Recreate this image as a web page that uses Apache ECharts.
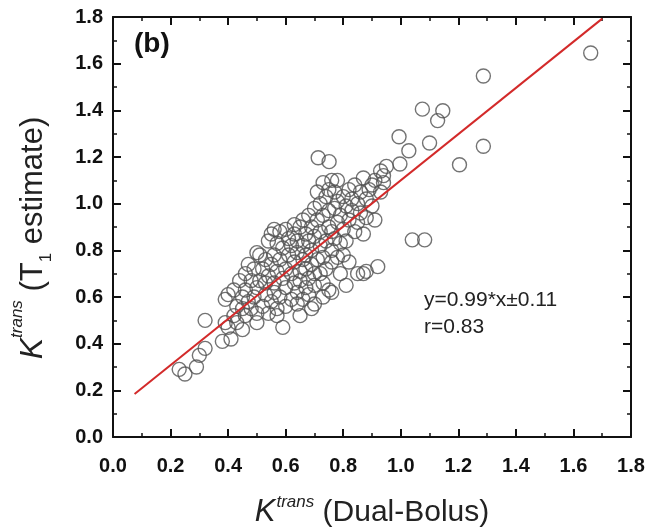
<!DOCTYPE html>
<html>
<head>
<meta charset="utf-8">
<script src="https://cdn.jsdelivr.net/npm/echarts@6/dist/echarts.min.js"></script>
<style>html,body{margin:0;padding:0;background:#fff}#c{width:655px;height:527px}</style>
</head>
<body>
<div id="c"></div>
<script>
// Dual-Bolus Ktrans (x) vs T1-estimate Ktrans (y)
var clusterX = [0.38,0.39,0.39,0.40,0.40,0.41,0.42,0.42,0.43,0.43,0.44,0.45,0.45,0.45,0.46,0.46,0.46,0.47,0.47,
0.48,0.48,0.49,0.49,0.50,0.50,0.50,0.50,0.51,0.51,
0.52,0.52,0.53,0.53,0.53,0.54,0.54,0.54,
0.55,0.55,0.55,0.56,0.56,0.56,0.56,0.57,0.57,0.57,0.57,
0.58,0.58,0.58,0.59,0.59,0.59,0.60,0.60,0.60,0.60,0.61,0.61,
0.62,0.62,0.62,0.63,0.63,0.63,0.63,0.64,0.64,0.64,0.64,
0.65,0.65,0.65,0.65,0.66,0.66,0.66,0.66,0.67,0.67,0.67,0.67,
0.68,0.68,0.68,0.68,0.69,0.69,0.69,0.69,0.70,0.70,0.70,0.70,0.70,
0.71,0.71,0.71,0.72,0.72,0.72,0.72,0.73,0.73,0.73,0.73,0.73,
0.74,0.74,0.74,0.75,0.75,0.75,0.75,0.76,0.76,0.76,0.76,0.76,
0.77,0.77,0.77,0.78,0.78,0.78,0.78,0.79,0.79,0.79,
0.80,0.80,0.80,0.81,0.81,0.81,0.82,0.82,0.82,
0.83,0.83,0.84,0.84,0.85,0.85,0.85,
0.86,0.86,0.87,0.87,0.87,0.88,0.88,0.88,
0.89,0.90,0.90,0.91,0.91,
0.92,0.93,0.93,0.94,0.95,0.94];
var clusterY = [0.41,0.49,0.59,0.47,0.61,0.42,0.52,0.63,0.56,0.49,0.67,0.46,0.55,0.60,0.52,0.70,0.63,0.74,0.58,
0.67,0.55,0.60,0.72,0.49,0.79,0.64,0.53,0.67,0.78,
0.56,0.72,0.61,0.66,0.76,0.53,0.69,0.84,
0.87,0.58,0.74,0.62,0.78,0.89,0.66,0.55,0.71,0.83,0.52,
0.88,0.60,0.76,0.47,0.68,0.81,0.56,0.72,0.89,0.64,0.78,0.85,
0.59,0.70,0.82,0.66,0.91,0.75,0.87,0.57,0.62,0.79,0.84,
0.52,0.90,0.71,0.67,0.76,0.59,0.82,0.93,0.64,0.87,0.72,0.78,
0.95,0.61,0.68,0.84,0.55,0.74,0.90,0.80,0.57,0.65,0.86,0.98,0.70,
1.05,0.76,0.93,0.82,0.70,1.00,0.88,0.60,0.95,1.09,0.77,0.66,
0.84,1.03,0.72,0.90,1.06,0.63,0.97,0.80,0.62,1.10,0.88,0.75,
0.98,1.05,0.85,1.10,0.77,0.92,1.01,0.70,0.83,0.95,
1.03,0.89,0.78,0.99,0.65,0.84,0.93,1.06,0.75,
0.97,1.02,0.88,1.08,0.92,0.70,1.00,
1.05,0.96,1.11,0.87,0.70,1.02,0.71,0.94,
1.06,0.99,1.08,0.93,1.10,
0.73,1.14,1.05,1.09,1.16,1.12];
var outlierX = [0.23,0.25,0.29,0.30,0.32,0.32,1.66,1.287,1.287,1.204,1.075,1.146,1.128,1.10,0.994,1.028,0.997,1.04,1.083,0.713,0.751];
var outlierY = [0.29,0.27,0.30,0.35,0.38,0.50,1.646,1.547,1.246,1.167,1.405,1.398,1.356,1.26,1.287,1.227,1.17,0.845,0.845,1.197,1.18];
var fitX = [0.075, 1.70];
var fitY = [0.184, 1.793];
var tickValues = [0.0,0.2,0.4,0.6,0.8,1.0,1.2,1.4,1.6,1.8];
var fitText = 'y=0.99*x\u00B10.11';
var rText = 'r=0.83';
var panelLabel = '(b)';

var points = [];
for (var i = 0; i < clusterX.length; i++) points.push([clusterX[i], clusterY[i]]);
for (var j = 0; j < outlierX.length; j++) points.push([outlierX[j], outlierY[j]]);
var fitLine = fitX.map(function (x, k) { return [x, fitY[k]]; });

var FONT = '"Liberation Sans", Arial, sans-serif';
var lbl = function (v) { return v.toFixed(1); };
var axisCommon = {
  type: 'value', min: 0, max: 1.8, interval: 0.2,
  axisLine: { show: true, onZero: false, lineStyle: { color: '#111', width: 2 } },
  axisTick: { show: true, inside: true, length: 8, lineStyle: { color: '#111', width: 2 } },
  minorTick: { show: true, splitNumber: 2, length: 4, lineStyle: { color: '#111', width: 1.5 } },
  splitLine: { show: false }
};
function mk(extra) { return Object.assign({}, JSON.parse(JSON.stringify(axisCommon)), extra); }

var chart = echarts.init(document.getElementById('c'), null, { renderer: 'canvas' });
chart.setOption({
  animation: false,
  backgroundColor: '#fff',
  grid: { left: 113, right: 24, top: 17, bottom: 90, containLabel: false, outerBoundsMode: 'none' },
  xAxis: [
    mk({ position: 'bottom',
      axisLabel: { formatter: lbl, fontFamily: FONT, fontWeight: 'bold', fontSize: 20, color: '#111', margin: 19 },
      name: '{k|K}{sup|trans}{n| (Dual-Bolus)}', nameLocation: 'middle', nameGap: 57,
      nameTextStyle: { rich: {
        k: { fontFamily: FONT, fontStyle: 'italic', fontSize: 31, color: '#222', verticalAlign: 'bottom', lineHeight: 34 },
        sup: { fontFamily: FONT, fontStyle: 'italic', fontSize: 17, color: '#222', verticalAlign: 'top', lineHeight: 34, padding: [0, 0, 0, 1] },
        n: { fontFamily: FONT, fontSize: 30, color: '#222', verticalAlign: 'bottom', lineHeight: 34 }
      } } }),
    mk({ position: 'top', axisLabel: { show: false } })
  ],
  yAxis: [
    mk({ position: 'left',
      axisLabel: { formatter: lbl, fontFamily: FONT, fontWeight: 'bold', fontSize: 20, color: '#111', margin: 10 },
      name: '{k|K}{sup|trans}{n| (T}{sub|1}{e| estimate)}', nameLocation: 'middle', nameGap: 64,
      nameTextStyle: { rich: {
        k: { fontFamily: FONT, fontStyle: 'italic', fontSize: 32, color: '#222', verticalAlign: 'bottom', lineHeight: 40 },
        sup: { fontFamily: FONT, fontStyle: 'italic', fontSize: 17, color: '#222', verticalAlign: 'top', lineHeight: 40 },
        n: { fontFamily: FONT, fontSize: 31, color: '#222', verticalAlign: 'bottom', lineHeight: 40 },
        e: { fontFamily: FONT, fontSize: 31, color: '#222', verticalAlign: 'bottom', lineHeight: 40, padding: [0, 22, 0, 0] },
        sub: { fontFamily: FONT, fontSize: 17, color: '#222', verticalAlign: 'bottom', lineHeight: 40, padding: [0, 0, -6, 0] }
      } } }),
    mk({ position: 'right', axisLabel: { show: false } })
  ],
  graphic: [
    { type: 'text', left: 134, top: 30, style: { text: panelLabel, font: 'bold 28px ' + FONT, fill: '#111' } },
    { type: 'text', left: 424, top: 290, style: { text: fitText, font: '21px ' + FONT, fill: '#222' } },
    { type: 'text', left: 424, top: 317, style: { text: rText, font: '21px ' + FONT, fill: '#222' } }
  ],
  series: [
    { type: 'scatter', xAxisIndex: 0, yAxisIndex: 0, data: points, symbol: 'circle', symbolSize: 14,
      itemStyle: { color: 'rgba(255,255,255,0)', borderColor: '#505050', borderWidth: 1.4 }, z: 2 },
    { type: 'line', xAxisIndex: 0, yAxisIndex: 0, data: fitLine, showSymbol: false, symbol: 'none',
      lineStyle: { color: '#d32a2a', width: 2 }, z: 3 }
  ]
});
</script>
</body>
</html>
